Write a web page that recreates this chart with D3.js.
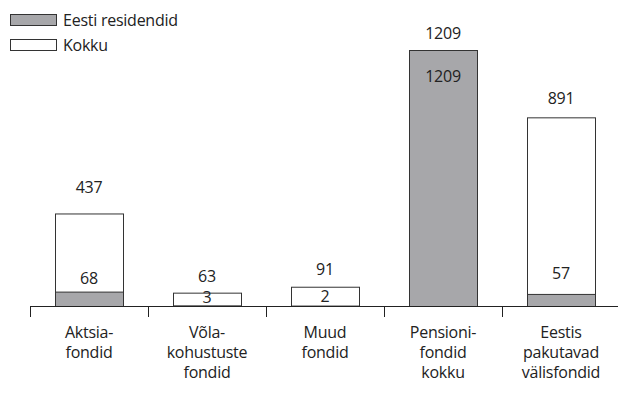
<!DOCTYPE html>
<html>
<head>
<meta charset="utf-8">
<script src="https://cdn.jsdelivr.net/npm/d3@7"></script>
<style>
  body { margin: 0; background: #fff; }
  text { font-family: "Open Sans", sans-serif; fill: #222; letter-spacing: -0.25px; }
</style>
</head>
<body>
<div id="chart"></div>
<script>
// ======= data
var categories = [
  ["Aktsia-", "fondid"],
  ["Võla-", "kohustuste", "fondid"],
  ["Muud", "fondid"],
  ["Pensioni-", "fondid", "kokku"],
  ["Eestis", "pakutavad", "välisfondid"]
];
var residents = [68, 3, 2, 1209, 57];
var totals = [437, 63, 91, 1209, 891];
var seriesNames = ["Eesti residendid", "Kokku"];

// label nudges (pixels above the bar top)
var totalLabelDy = [20, 11, 12, 11, 13];
var resLabelDy = [8, 2, 4, -32, 15];

var W = 618, H = 401;
var svg = d3.select("#chart").append("svg")
  .attr("width", W)
  .attr("height", H);

var x = d3.scaleBand()
  .domain(d3.range(categories.length))
  .range([30, 620])
  .paddingInner(0)
  .paddingOuter(0);

var y = d3.scaleLinear()
  .domain([0, 1209])
  .range([306, 50]);

var barW = 68;
var grey = "#a7a7aa";
var fs = "16px";

// ======= total bars (white)
svg.selectAll("rect.total")
  .data(totals)
  .enter()
  .append("rect")
  .attr("class", "total")
  .attr("x", function(d, i) { return x(i) + (x.bandwidth() - barW) / 2 + 0.5; })
  .attr("y", function(d) { return y(d) + 0.5; })
  .attr("width", barW)
  .attr("height", function(d) { return y(0) - y(d); })
  .attr("fill", "#fff")
  .attr("stroke", "#333")
  .attr("stroke-width", 1);

// ======= resident bars (grey)
svg.selectAll("rect.res")
  .data(residents)
  .enter()
  .append("rect")
  .attr("class", "res")
  .attr("x", function(d, i) { return x(i) + (x.bandwidth() - barW) / 2 + 0.5; })
  .attr("y", function(d) { return y(d) + 0.5; })
  .attr("width", barW)
  .attr("height", function(d) { return y(0) - y(d); })
  .attr("fill", grey)
  .attr("stroke", "#333")
  .attr("stroke-width", 1);

// ======= axis line and ticks
svg.append("line")
  .attr("x1", 30).attr("x2", W)
  .attr("y1", y(0) + 0.5).attr("y2", y(0) + 0.5)
  .attr("stroke", "#222");

svg.selectAll("line.tick")
  .data(d3.range(categories.length))
  .enter()
  .append("line")
  .attr("class", "tick")
  .attr("x1", function(d) { return Math.round(x(d)) + 0.5; })
  .attr("x2", function(d) { return Math.round(x(d)) + 0.5; })
  .attr("y1", y(0))
  .attr("y2", y(0) + 11)
  .attr("stroke", "#222");

// ======= value labels
svg.selectAll("text.totalLab")
  .data(totals)
  .enter()
  .append("text")
  .attr("class", "totalLab")
  .text(function(d) { return d; })
  .attr("x", function(d, i) { return x(i) + x.bandwidth() / 2; })
  .attr("y", function(d, i) { return y(d) - totalLabelDy[i]; })
  .attr("text-anchor", "middle")
  .attr("font-size", fs);

svg.selectAll("text.resLab")
  .data(residents)
  .enter()
  .append("text")
  .attr("class", "resLab")
  .text(function(d) { return d; })
  .attr("x", function(d, i) { return x(i) + x.bandwidth() / 2; })
  .attr("y", function(d, i) { return y(d) - resLabelDy[i]; })
  .attr("text-anchor", "middle")
  .attr("font-size", fs);

// ======= category labels
var catG = svg.selectAll("text.cat")
  .data(categories)
  .enter()
  .append("text")
  .attr("class", "cat")
  .attr("text-anchor", "middle")
  .attr("font-size", fs);

catG.selectAll("tspan")
  .data(function(d, i) { return d.map(function(s) { return { s: s, i: i }; }); })
  .enter()
  .append("tspan")
  .attr("x", function(d) { return x(d.i) + x.bandwidth() / 2; })
  .attr("y", function(d, j) { return 338 + j * 20; })
  .text(function(d) { return d.s; });

// ======= legend
var legend = svg.selectAll("g.legend")
  .data(seriesNames)
  .enter()
  .append("g")
  .attr("class", "legend")
  .attr("transform", function(d, i) { return "translate(0," + (i * 25) + ")"; });

legend.append("rect")
  .attr("x", 10.5).attr("y", 14.5)
  .attr("width", 46).attr("height", 11)
  .attr("fill", function(d, i) { return i === 0 ? grey : "#fff"; })
  .attr("stroke", "#333");

legend.append("text")
  .attr("x", 63).attr("y", 25.5)
  .attr("font-size", fs)
  .text(function(d) { return d; });
</script>
</body>
</html>
